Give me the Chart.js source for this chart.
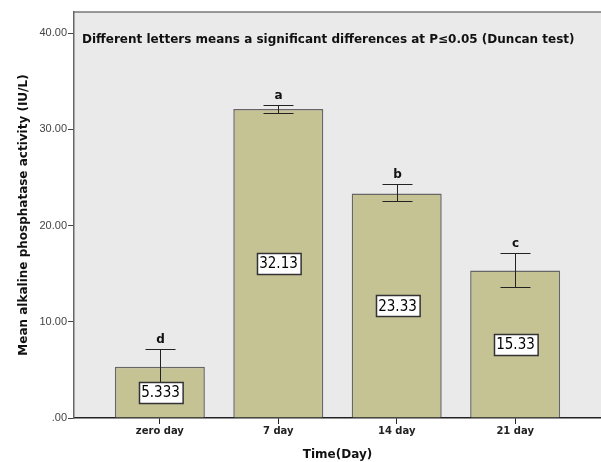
<!DOCTYPE html>
<html>
<head>
<meta charset="utf-8">
<script src="https://cdn.jsdelivr.net/npm/chart.js@4.4.1/dist/chart.umd.min.js"></script>
<style>
  body { margin: 0; background: #fff; }
  #wrap { width: 601px; height: 462px; position: relative; }
</style>
</head>
<body>
<div id="wrap"><canvas id="barChart"></canvas></div>
<script>
// datos
const labels = ['zero day', '7 day', '14 day', '21 day'];
const means = [5.333, 32.13, 23.33, 15.33];
const errLow = [3.53, 31.68, 22.51, 13.60];
const errHigh = [7.14, 32.58, 24.31, 17.14];
const letters = ['d', 'a', 'b', 'c'];
const valueLabels = ['5.333', '32.13', '23.33', '15.33'];
const yTicks = [0, 10, 20, 30, 40];
const yTickLabels = ['.00', '10.00', '20.00', '30.00', '40.00'];
const note = 'Different letters means a significant differences at P\u22640.05 (Duncan test)';

// fondo gris del area y borde superior
const fondo = {
  id: 'fondo',
  beforeDraw(chart) {
    const { ctx, chartArea: a } = chart;
    ctx.save();
    ctx.fillStyle = '#EAEAEA';
    ctx.fillRect(a.left, a.top, a.right - a.left, a.bottom - a.top);
    ctx.strokeStyle = '#777';
    ctx.lineWidth = 1.5;
    ctx.beginPath();
    ctx.moveTo(a.left, a.top);
    ctx.lineTo(a.right, a.top);
    ctx.stroke();
    ctx.restore();
  }
};

// barras de error, letras y cajas de valores
const extras = {
  id: 'extras',
  afterDatasetsDraw(chart) {
    const { ctx, chartArea: a } = chart;
    const x = chart.scales.x;
    const y = chart.scales.y;
    ctx.save();
    ctx.strokeStyle = '#222';
    ctx.lineWidth = 1;
    means.forEach((m, i) => {
      const px = Math.round(x.getPixelForValue(i)) + 0.5;
      const yh = Math.round(y.getPixelForValue(errHigh[i])) + 0.5;
      const yl = Math.round(y.getPixelForValue(errLow[i])) + 0.5;
      ctx.beginPath();
      ctx.moveTo(px, yh); ctx.lineTo(px, yl);
      ctx.moveTo(px - 15, yh); ctx.lineTo(px + 15, yh);
      ctx.moveTo(px - 15, yl); ctx.lineTo(px + 15, yl);
      ctx.stroke();

      // letra
      ctx.fillStyle = '#111';
      ctx.font = 'bold 12px "DejaVu Sans"';
      ctx.textAlign = 'center';
      ctx.textBaseline = 'bottom';
      ctx.fillText(letters[i], px, yh - 4);

      // caja con el valor
      const cy = y.getPixelForValue(m / 2);
      ctx.font = '15px "Liberation Sans Narrow", "DejaVu Sans Condensed"';
      const w = Math.max(ctx.measureText(valueLabels[i]).width + 5, 34);
      const h = 21;
      const bx = Math.round(px - w / 2) + 0.5;
      const by = Math.round(cy - h / 2) + 0.5;
      ctx.fillStyle = '#fff';
      ctx.fillRect(bx, by, w, h);
      ctx.strokeStyle = '#333';
      ctx.lineWidth = 1.5;
      ctx.strokeRect(bx, by, w, h);
      ctx.fillStyle = '#000';
      ctx.textBaseline = 'middle';
      ctx.fillText(valueLabels[i], px, cy + 1);
      ctx.strokeStyle = '#222';
      ctx.lineWidth = 1;
    });

    // nota
    ctx.fillStyle = '#111';
    ctx.font = 'bold 12px "DejaVu Sans"';
    ctx.textAlign = 'left';
    ctx.textBaseline = 'middle';
    ctx.fillText(note, a.left + 8, a.top + 28);
    ctx.restore();
  }
};

const ctx = document.getElementById('barChart').getContext('2d');
new Chart(ctx, {
  type: 'bar',
  data: {
    datasets: [{
      data: means.map((m, i) => ({ x: i, y: m })),
      backgroundColor: '#C5C294',
      borderColor: '#666',
      borderWidth: 1.5,
      borderSkipped: 'bottom',
      categoryPercentage: 1,
      barPercentage: 0.76
    }]
  },
  options: {
    responsive: true,
    maintainAspectRatio: false,
    animation: false,
    layout: { padding: { top: 12, right: 0, left: 0, bottom: 0 } },
    plugins: {
      legend: { display: false },
      tooltip: { enabled: false }
    },
    scales: {
      x: {
        type: 'linear',
        offset: false,
        min: -0.725,
        max: 3.725,
        afterBuildTicks: axis => { axis.ticks = labels.map((_, i) => ({ value: i })); },
        afterFit: axis => { axis.height = 44; },
        grid: { offset: false, drawOnChartArea: false, color: '#222', tickLength: 6 },
        border: { color: '#222', width: 1.5 },
        ticks: {
          color: '#222',
          padding: 1,
          maxRotation: 0,
          font: { family: '"DejaVu Sans"', size: 10, weight: 'bold' },
          callback: v => labels[v]
        },
        title: {
          display: true,
          text: 'Time(Day)',
          color: '#111',
          padding: { top: 0, bottom: 0 },
          font: { family: '"DejaVu Sans"', size: 12, weight: 'bold' }
        }
      },
      y: {
        min: 0,
        max: 42.2,
        afterBuildTicks: axis => { axis.ticks = yTicks.map(v => ({ value: v })); },
        afterFit: axis => { axis.width = 74; },
        grid: { drawOnChartArea: false, color: '#444', tickLength: 6 },
        border: { color: '#666', width: 1.5 },
        ticks: {
          color: '#444',
          padding: 1,
          font: { family: '"Liberation Sans"', size: 11 },
          callback: v => yTickLabels[yTicks.indexOf(v)]
        },
        title: {
          display: true,
          text: 'Mean alkaline phosphatase activity (IU/L)',
          color: '#111',
          padding: { top: 17, bottom: 0 },
          font: { family: '"DejaVu Sans"', size: 12, weight: 'bold' }
        }
      }
    }
  },
  plugins: [fondo, extras]
});
</script>
</body>
</html>
